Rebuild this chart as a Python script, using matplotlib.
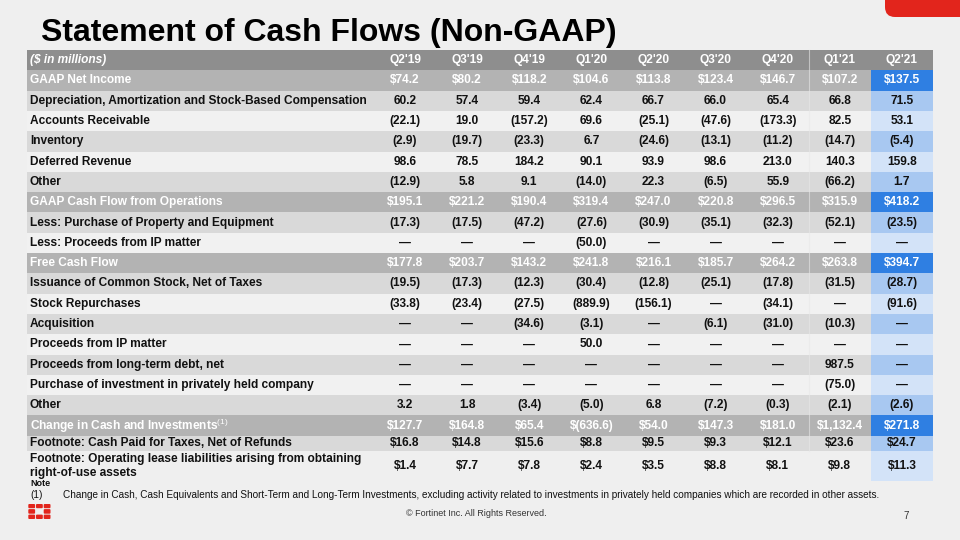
import matplotlib
matplotlib.use("Agg")
import matplotlib.pyplot as plt
from matplotlib.patches import Rectangle, FancyBboxPatch

plt.rcParams['font.family'] = ['Liberation Sans', 'DejaVu Sans']
plt.rcParams['mathtext.fontset'] = 'custom'
plt.rcParams['mathtext.rm'] = 'Liberation Sans'
plt.rcParams['mathtext.bf'] = 'Liberation Sans:bold'

# ---------------- data ----------------
title = "Statement of Cash Flows (Non-GAAP)"
unit_label = "($ in millions)"
quarters = ["Q2'19", "Q3'19", "Q4'19", "Q1'20", "Q2'20", "Q3'20", "Q4'20", "Q1'21", "Q2'21"]

net_income = [74.2, 80.2, 118.2, 104.6, 113.8, 123.4, 146.7, 107.2, 137.5]
dep_amort_sbc = [60.2, 57.4, 59.4, 62.4, 66.7, 66.0, 65.4, 66.8, 71.5]
accounts_receivable = [-22.1, 19.0, -157.2, 69.6, -25.1, -47.6, -173.3, 82.5, 53.1]
inventory = [-2.9, -19.7, -23.3, 6.7, -24.6, -13.1, -11.2, -14.7, -5.4]
deferred_revenue = [98.6, 78.5, 184.2, 90.1, 93.9, 98.6, 213.0, 140.3, 159.8]
other_operating = [-12.9, 5.8, 9.1, -14.0, 22.3, -6.5, 55.9, -66.2, 1.7]
cash_from_ops = [195.1, 221.2, 190.4, 319.4, 247.0, 220.8, 296.5, 315.9, 418.2]
capex = [-17.3, -17.5, -47.2, -27.6, -30.9, -35.1, -32.3, -52.1, -23.5]
less_ip_proceeds = [None, None, None, -50.0, None, None, None, None, None]
free_cash_flow = [177.8, 203.7, 143.2, 241.8, 216.1, 185.7, 264.2, 263.8, 394.7]
stock_issuance = [-19.5, -17.3, -12.3, -30.4, -12.8, -25.1, -17.8, -31.5, -28.7]
stock_repurchases = [-33.8, -23.4, -27.5, -889.9, -156.1, None, -34.1, None, -91.6]
acquisition = [None, None, -34.6, -3.1, None, -6.1, -31.0, -10.3, None]
ip_proceeds = [None, None, None, 50.0, None, None, None, None, None]
debt_proceeds = [None, None, None, None, None, None, None, 987.5, None]
private_investment = [None, None, None, None, None, None, None, -75.0, None]
other_financing = [3.2, 1.8, -3.4, -5.0, 6.8, -7.2, -0.3, -2.1, -2.6]
change_in_cash = [127.7, 164.8, 65.4, -636.6, 54.0, 147.3, 181.0, 1132.4, 271.8]
taxes_paid = [16.8, 14.8, 15.6, 8.8, 9.5, 9.3, 12.1, 23.6, 24.7]
lease_liabilities = [1.4, 7.7, 7.8, 2.4, 3.5, 8.8, 8.1, 9.8, 11.3]

row_labels = [
    "GAAP Net Income",
    "Depreciation, Amortization and Stock-Based Compensation",
    "Accounts Receivable",
    "Inventory",
    "Deferred Revenue",
    "Other",
    "GAAP Cash Flow from Operations",
    "Less: Purchase of Property and Equipment",
    "Less: Proceeds from IP matter",
    "Free Cash Flow",
    "Issuance of Common Stock, Net of Taxes",
    "Stock Repurchases",
    "Acquisition",
    "Proceeds from IP matter",
    "Proceeds from long-term debt, net",
    "Purchase of investment in privately held company",
    "Other",
    r"Change in Cash and Investments$^{(1)}$",
    "Footnote: Cash Paid for Taxes, Net of Refunds",
    "Footnote: Operating lease liabilities arising from obtaining\nright-of-use assets",
]
row_values = [net_income, dep_amort_sbc, accounts_receivable, inventory, deferred_revenue,
              other_operating, cash_from_ops, capex, less_ip_proceeds, free_cash_flow,
              stock_issuance, stock_repurchases, acquisition, ip_proceeds, debt_proceeds,
              private_investment, other_financing, change_in_cash, taxes_paid, lease_liabilities]
dollar_rows = [0, 6, 9, 17, 18, 19]
highlight_rows = [0, 6, 9, 17]

note_title = "Note"
note_num = "(1)"
note_text = ("Change in Cash, Cash Equivalents and Short-Term and Long-Term Investments, excluding "
             "activity related to investments in privately held companies which are recorded in other assets.")
copyright_text = "\u00a9 Fortinet Inc. All Rights Reserved."
page_num = "7"


def fmt(v, dollar):
    if v is None:
        return "\u2014"
    s = f"{abs(v):,.1f}"
    if v < 0:
        s = f"({s})"
    return ("$" + s) if dollar else s


# ---------------- layout ----------------
BG = "#efefef"
HEADER = "#8e8e8e"
HIGHLIGHT = "#b3b3b3"
DARK = "#d9d9d9"
LIGHT = "#f1f1f1"
BLUE_H = "#2f7fe2"
BLUE_D = "#a8c8f1"
BLUE_L = "#d3e3f8"
RED = "#e2251c"

fig = plt.figure(figsize=(9.6, 5.4), dpi=100, facecolor=BG)
ax = fig.add_axes([0, 0, 1, 1])
ax.set_xlim(0, 960)
ax.set_ylim(540, 0)
ax.axis("off")
ax.set_facecolor(BG)

left, label_right, right = 27, 374, 933
ncol = len(quarters)
colw = (right - label_right) / ncol
top = 50.0
rowh = 20.3
fs = 8.6

# row bounds
bounds = [(top, top + rowh)]
y = top + rowh
for i in range(len(row_labels)):
    if i == 18:
        h = 15.5
    elif i == 19:
        h = 29.5
    else:
        h = rowh
    bounds.append((y, y + h))
    y += h

# header
y0, y1 = bounds[0]
ax.add_patch(Rectangle((left, y0), right - left, y1 - y0, facecolor=HEADER, edgecolor="none"))
ax.text(30, (y0 + y1) / 2, unit_label, color="white", fontsize=fs, fontweight="bold",
        fontstyle="italic", va="center", ha="left")
for j, q in enumerate(quarters):
    ax.text(label_right + colw * (j + 0.5), (y0 + y1) / 2, q, color="white", fontsize=fs,
            fontweight="bold", va="center", ha="center")

# body rows
k = 0
for i, (lab, vals) in enumerate(zip(row_labels, row_values)):
    y0, y1 = bounds[i + 1]
    yc = (y0 + y1) / 2
    if i in highlight_rows:
        bg, last_bg, tc = HIGHLIGHT, BLUE_H, "white"
        k = 0
    else:
        if k % 2 == 0:
            bg, last_bg, tc = DARK, BLUE_D, "#111111"
        else:
            bg, last_bg, tc = LIGHT, BLUE_L, "#111111"
        k += 1
    if i == 19:
        bg = BG
    ax.add_patch(Rectangle((left, y0), right - left - colw, y1 - y0, facecolor=bg, edgecolor="none"))
    ax.add_patch(Rectangle((right - colw, y0), colw, y1 - y0, facecolor=last_bg, edgecolor="none"))
    ax.text(30, yc, lab, color=tc, fontsize=fs, fontweight="bold", va="center", ha="left",
            linespacing=1.15)
    for j, v in enumerate(vals):
        ax.text(label_right + colw * (j + 0.5), yc, fmt(v, i in dollar_rows), color=tc,
                fontsize=fs, fontweight="bold", va="center", ha="center")

# faint separator between Q4'20 and Q1'21
sep_x = label_right + colw * 7
ax.plot([sep_x, sep_x], [bounds[0][0], bounds[19][1]], color="#e8e8e8", lw=0.8, alpha=0.6)

# title
ax.text(41, 41, title, fontsize=23, fontweight="bold", color="black", va="baseline", ha="left")

# notes
ax.text(30, 483, note_title, fontsize=6.5, fontweight="bold", color="#111111", va="center", ha="left")
ax.text(30, 495, note_num, fontsize=7.2, color="#111111", va="center", ha="left")
ax.text(63, 495, note_text, fontsize=7.2, color="#111111", va="center", ha="left")
ax.text(476, 514, copyright_text, fontsize=6.5, color="#333333", va="center", ha="center")
ax.text(906, 516, page_num, fontsize=7, color="#333333", va="center", ha="center")

# top-right red tab
ax.add_patch(FancyBboxPatch((885, -20), 100, 37, boxstyle="round,pad=0,rounding_size=10",
                            facecolor=RED, edgecolor="none"))

# Fortinet logo
lx, ly = 28.3, 504
pw, gap = 6.8, 0.9
for r, (yy, hh) in enumerate([(0, 4.2), (5.1, 4.6), (10.6, 4.4)]):
    for c in range(3):
        if r == 1 and c == 1:
            continue
        ax.add_patch(FancyBboxPatch((lx + c * (pw + gap), ly + yy), pw, hh,
                                    boxstyle="round,pad=0,rounding_size=1.0",
                                    facecolor=RED, edgecolor="none"))

fig.savefig("out.png", dpi=100, facecolor=BG)
